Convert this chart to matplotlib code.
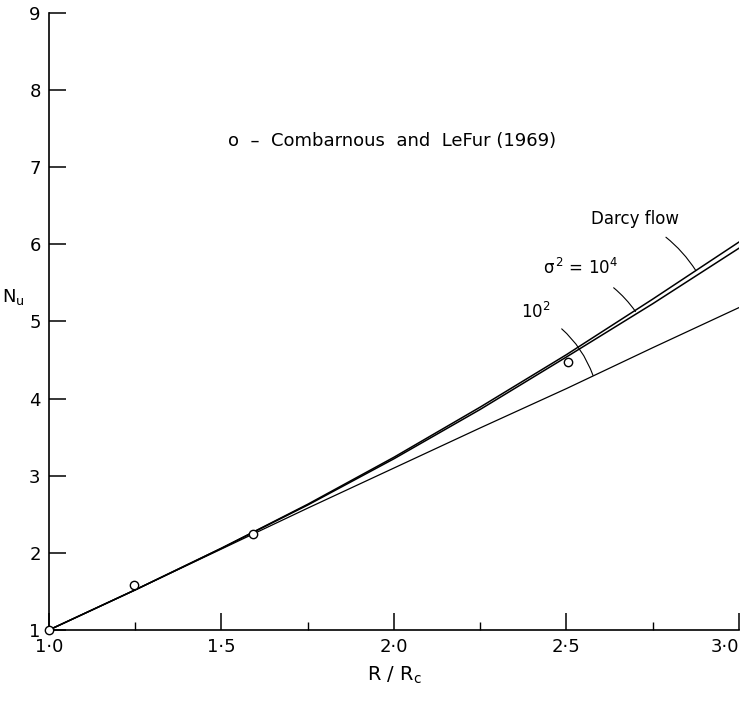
import matplotlib
matplotlib.use("Agg")
from matplotlib import pyplot as plt

# curves, Nu against R/Rc
r_vals = [1.0, 1.25, 1.5, 1.75, 2.0, 2.25, 2.5, 2.75, 3.0]
nu_darcy = [1.0, 1.52, 2.06, 2.63, 3.24, 3.89, 4.57, 5.29, 6.03]
nu_sig_1e4 = [1.0, 1.52, 2.06, 2.62, 3.22, 3.86, 4.54, 5.23, 5.95]
nu_sig_1e2 = [1.0, 1.52, 2.05, 2.58, 3.10, 3.62, 4.13, 4.66, 5.18]

# Combarnous and LeFur (1969) experiments
r_exp = [1.0, 1.245, 1.59, 2.505]
nu_exp = [1.0, 1.58, 2.24, 4.48]

x_ticks = [1.0, 1.5, 2.0, 2.5, 3.0]
x_ticklabels = ["1·0", "1·5", "2·0", "2·5", "3·0"]
y_ticks = [1, 2, 3, 4, 5, 6, 7, 8, 9]

fs = 13

fig = plt.figure(figsize=(7.5, 7.01), dpi=100)
ax = fig.add_axes([0.0653, 0.1013, 0.92, 0.8802])

ax.plot(r_vals, nu_darcy, "-", color="black", lw=1.1)
ax.plot(r_vals, nu_sig_1e4, "-", color="black", lw=1.1)
ax.plot(r_vals, nu_sig_1e2, "-", color="black", lw=0.9)
ax.plot(r_exp, nu_exp, "o", ms=6, mfc="white", mec="black", mew=1.0,
        clip_on=False, zorder=5)

ax.set_xlim(1.0, 3.0)
ax.set_ylim(1, 9)
ax.spines["top"].set_visible(False)
ax.spines["right"].set_visible(False)
for s in ["left", "bottom"]:
    ax.spines[s].set_linewidth(1.2)

ax.set_xticks(x_ticks)
ax.set_xticklabels(x_ticklabels, fontsize=fs)
ax.get_xticklabels()[-1].set_horizontalalignment("right")
ax.set_xticks([1.25, 1.75, 2.25, 2.75], minor=True)
ax.set_yticks(y_ticks)
ax.set_yticklabels([str(v) for v in y_ticks], fontsize=fs)
ax.tick_params(which="major", direction="in", length=12, width=1.1, pad=6)
ax.tick_params(which="minor", direction="in", length=6, width=1.0)

ax.set_xlabel("R / R$_\\mathrm{c}$", fontsize=fs + 1, labelpad=6)
ax.text(-0.052, 0.54, "N$_\\mathrm{u}$", transform=ax.transAxes,
        fontsize=fs, ha="center", va="center")

ax.text(1.52, 7.34, "o  –  Combarnous  and  LeFur (1969)", fontsize=fs,
        ha="left", va="center")

# curve labels with leader lines
ax.annotate("Darcy flow", xy=(2.875, 5.66), xytext=(2.70, 6.33),
            fontsize=fs - 1, ha="center", va="center",
            arrowprops=dict(arrowstyle="-", lw=0.8, color="black",
                            shrinkA=8, shrinkB=0,
                            connectionstyle="arc3,rad=-0.15"))
ax.annotate("σ$^{\\,2}$ = 10$^4$", xy=(2.70, 5.13), xytext=(2.54, 5.69),
            fontsize=fs - 1, ha="center", va="center",
            arrowprops=dict(arrowstyle="-", lw=0.8, color="black",
                            shrinkA=8, shrinkB=0,
                            connectionstyle="arc3,rad=-0.15"))
ax.annotate("10$^2$", xy=(2.577, 4.30), xytext=(2.41, 5.13),
            fontsize=fs - 1, ha="center", va="center",
            arrowprops=dict(arrowstyle="-", lw=0.8, color="black",
                            shrinkA=8, shrinkB=0,
                            connectionstyle="arc3,rad=-0.2"))

fig.savefig("out.png", dpi=100)
